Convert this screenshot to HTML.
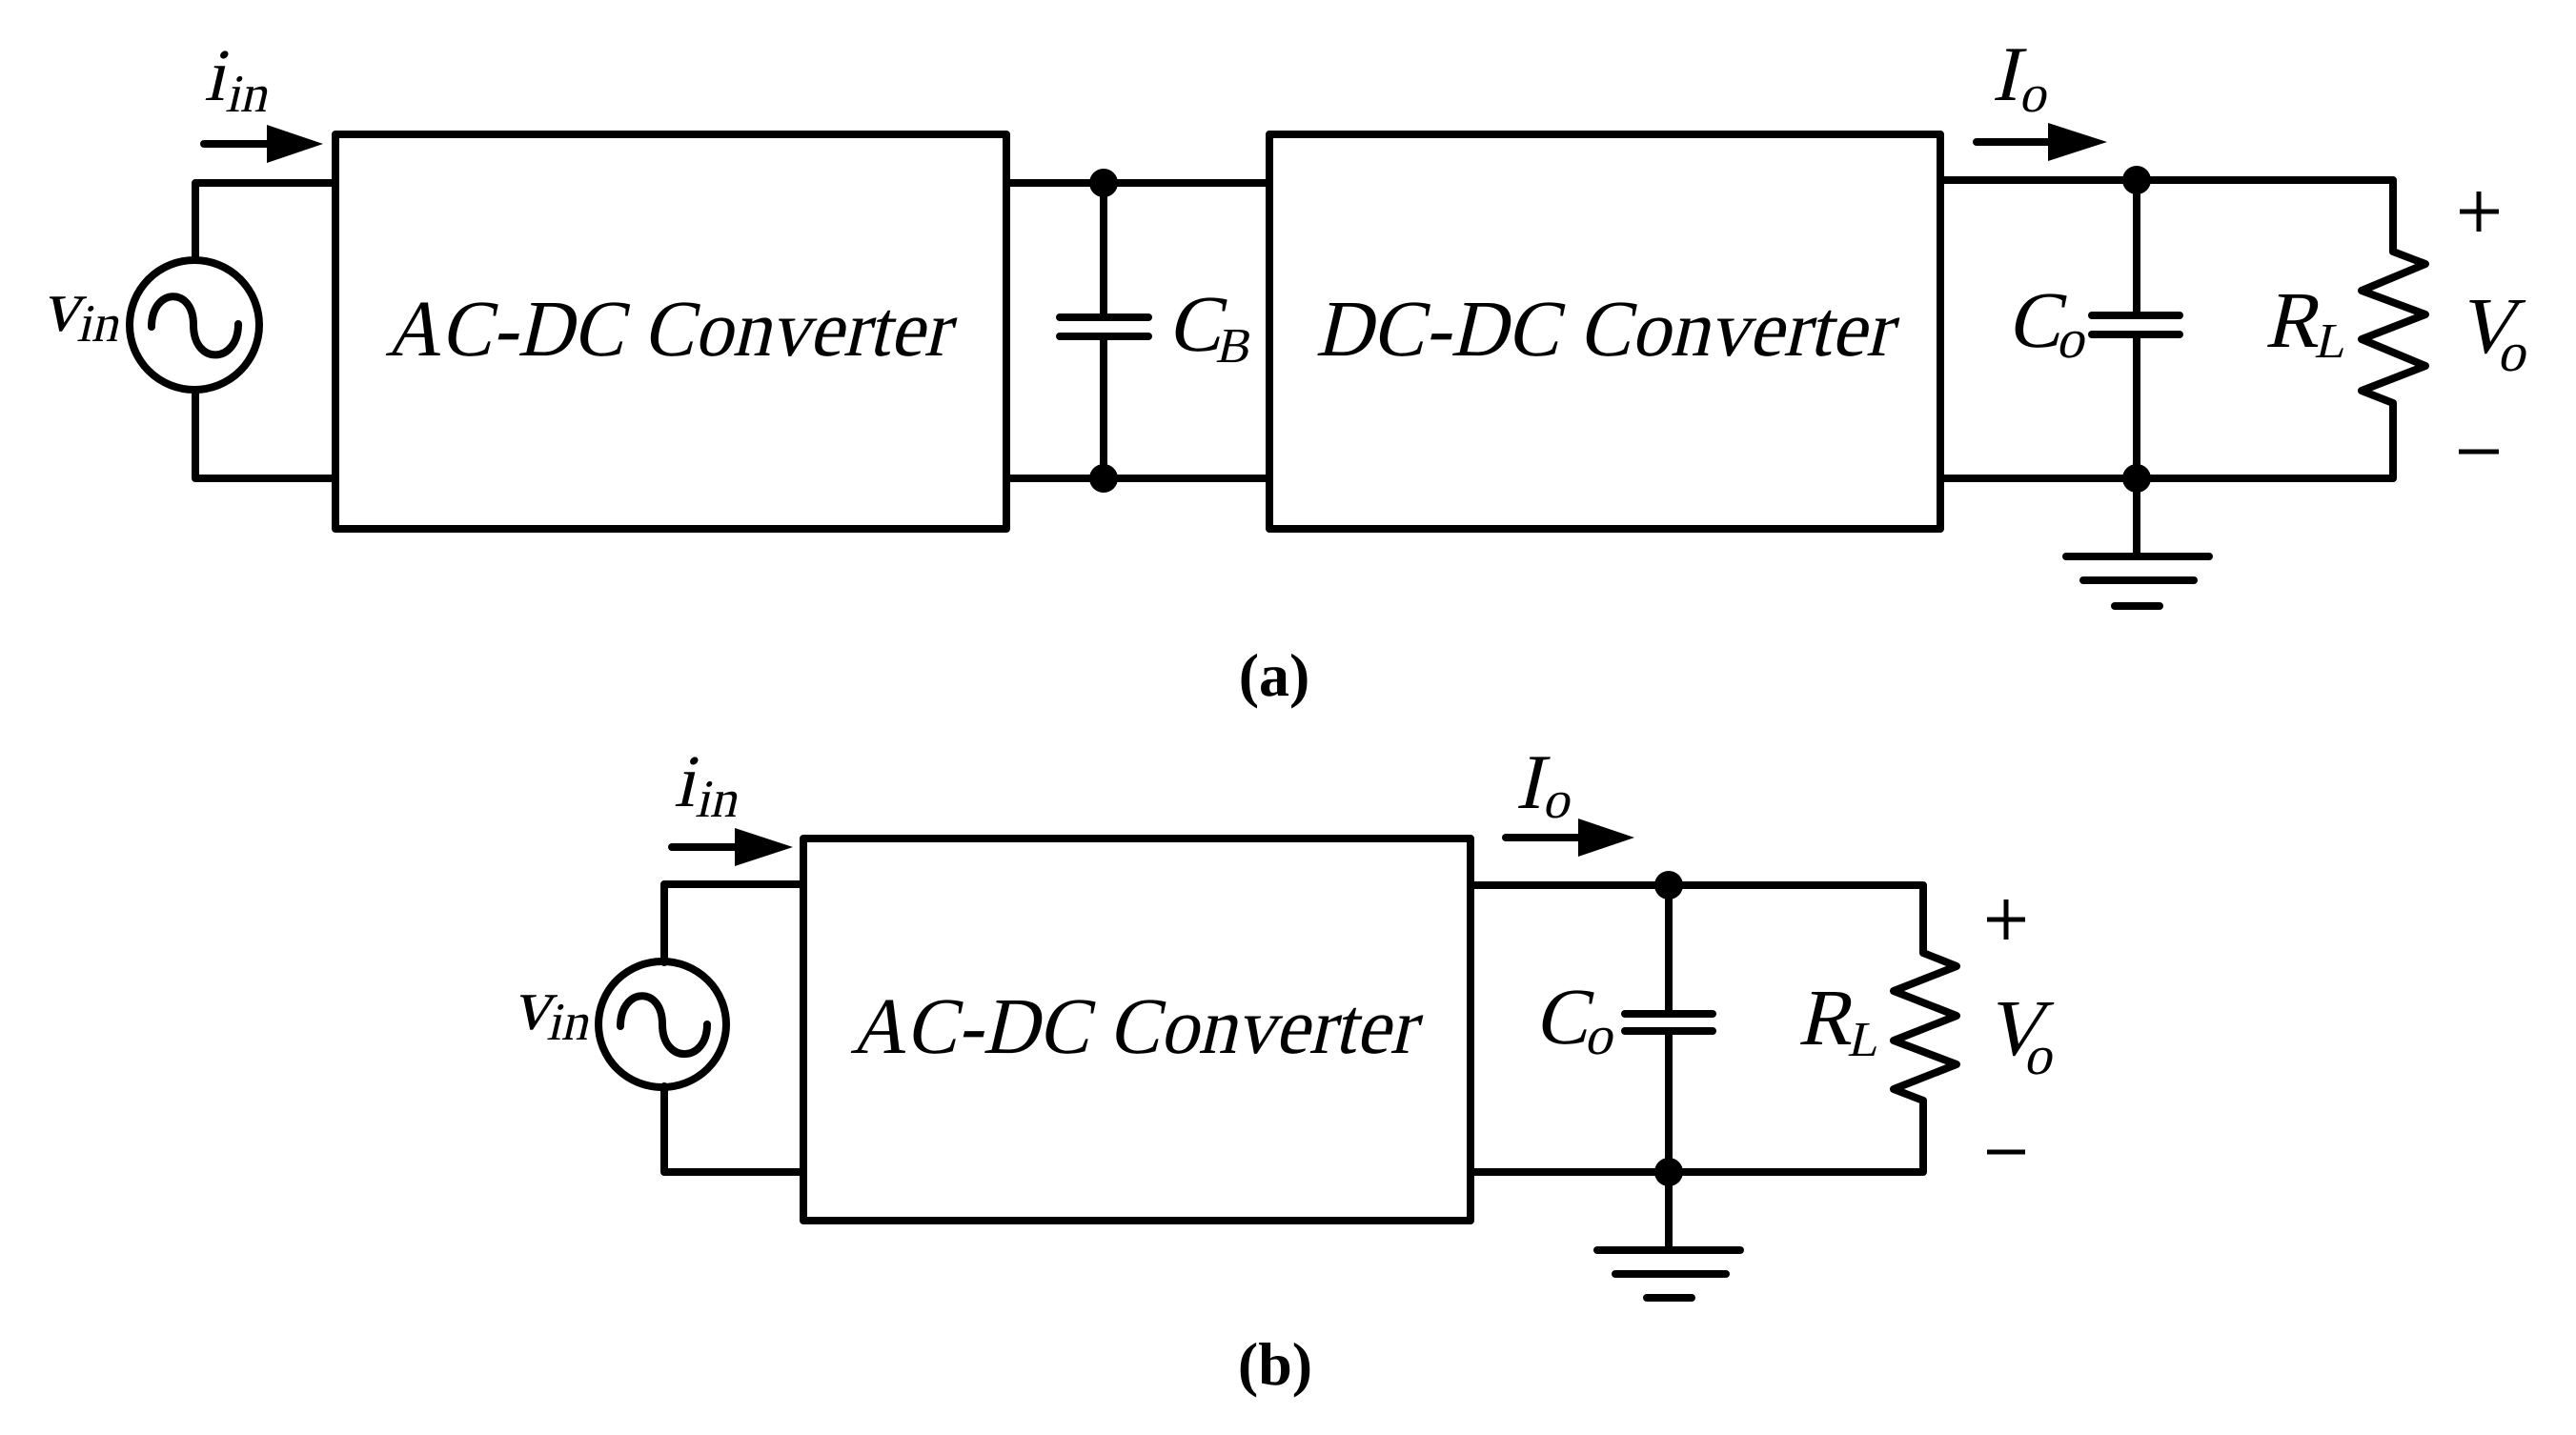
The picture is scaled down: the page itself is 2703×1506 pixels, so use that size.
<!DOCTYPE html>
<html><head><meta charset="utf-8"><style>
html,body{margin:0;padding:0;background:#fff}
svg{display:block}
text{font-family:"Liberation Serif","DejaVu Serif",serif;font-style:normal;fill:#000}
.b{font-weight:bold}
</style></head><body>
<svg width="2703" height="1506" viewBox="0 0 2703 1506" xmlns="http://www.w3.org/2000/svg">
<g fill="none" stroke="#000" stroke-width="8" stroke-linejoin="round" stroke-linecap="round">
<!-- (a) -->
<rect x="352" y="141" width="704" height="414"/>
<rect x="1332" y="141" width="704" height="414"/>
<polyline points="352,192 205,192 205,273"/>
<polyline points="205,410 205,502 352,502"/>
<ellipse cx="204" cy="341" rx="68" ry="68"/>
<path d="M159,343 C159,302 203,300 203,341 C203,384 250,382 250,340"/>
<line x1="1056" y1="192" x2="1332" y2="192"/>
<line x1="1056" y1="502" x2="1332" y2="502"/>
<line x1="1158" y1="192" x2="1158" y2="333"/>
<line x1="1158" y1="353" x2="1158" y2="502"/>
<line x1="1112" y1="333" x2="1205" y2="333"/>
<line x1="1112" y1="353" x2="1205" y2="353"/>
<polyline points="2036,189 2511,189 2511,264 2545,277 2478,305 2545,330 2478,356 2545,384 2478,410 2511,423 2511,502 2036,502"/>
<line x1="2242" y1="189" x2="2242" y2="331"/>
<line x1="2242" y1="351" x2="2242" y2="584"/>
<line x1="2195" y1="331" x2="2287" y2="331"/>
<line x1="2195" y1="351" x2="2287" y2="351"/>
<line x1="2168" y1="584" x2="2318" y2="584"/>
<line x1="2186" y1="609" x2="2302" y2="609"/>
<line x1="2219" y1="636" x2="2266" y2="636"/>
<line x1="214" y1="151" x2="285" y2="151"/>
<line x1="2074" y1="149" x2="2155" y2="149"/>
<!-- (b) -->
<rect x="843" y="880" width="700" height="401"/>
<polyline points="843,928 697,928 697,1010"/>
<polyline points="697,1140 697,1230 843,1230"/>
<ellipse cx="695" cy="1075" rx="67" ry="66"/>
<path d="M651,1077 C651,1036 695,1034 695,1075 C695,1117 742,1116 742,1075"/>
<polyline points="1543,929 2018,929 2018,1000 2053,1014 1987,1040 2053,1066 1987,1092 2053,1117 1987,1143 2018,1155 2018,1230 1543,1230"/>
<line x1="1751" y1="929" x2="1751" y2="1064"/>
<line x1="1751" y1="1082" x2="1751" y2="1312"/>
<line x1="1705" y1="1064" x2="1797" y2="1064"/>
<line x1="1705" y1="1082" x2="1797" y2="1082"/>
<line x1="1676" y1="1312" x2="1826" y2="1312"/>
<line x1="1695" y1="1337" x2="1811" y2="1337"/>
<line x1="1728" y1="1362" x2="1775" y2="1362"/>
<line x1="705" y1="889" x2="776" y2="889"/>
<line x1="1580" y1="879" x2="1660" y2="879"/>
</g>
<g fill="#000">
<polygon points="280,131 280,171 339,151"/>
<polygon points="2149,129 2149,169 2211,149"/>
<polygon points="771,869 771,909 832,889"/>
<polygon points="1656,859 1656,899 1715,879"/>
<circle cx="1158" cy="192" r="15"/><circle cx="1158" cy="502" r="15"/>
<circle cx="2242" cy="189" r="15"/><circle cx="2242" cy="502" r="15"/>
<circle cx="1751" cy="929" r="15"/><circle cx="1751" cy="1230" r="15"/>
</g>
<g stroke="#000" stroke-width="5">
<line x1="2581" y1="222" x2="2622" y2="222"/><line x1="2601" y1="201" x2="2601" y2="243"/>
<line x1="2580" y1="474" x2="2622" y2="474"/>
<line x1="2085" y1="965" x2="2125" y2="965"/><line x1="2105" y1="944" x2="2105" y2="986"/>
<line x1="2085" y1="1209" x2="2125" y2="1209"/>
</g>
<!-- labels (a) -->
<text transform="translate(404,373) skewX(-13)" font-size="84" textLength="592" lengthAdjust="spacingAndGlyphs">AC-DC Converter</text>
<text transform="translate(1380,373) skewX(-13)" font-size="84" textLength="605" lengthAdjust="spacingAndGlyphs">DC-DC Converter</text>
<text transform="translate(214,105) skewX(-13)" font-size="78">i</text><text transform="translate(236,117) skewX(-13)" font-size="56">in</text>
<text transform="translate(44,347) skewX(-13)" font-size="78">v</text><text transform="translate(80,358) skewX(-13)" font-size="56">in</text>
<text transform="translate(1225,368) skewX(-13)" font-size="84">C</text><text transform="translate(1275,380) skewX(-13)" font-size="52">B</text>
<text transform="translate(2090,105) skewX(-13)" font-size="82">I</text><text transform="translate(2118,117) skewX(-13)" font-size="56">o</text>
<text transform="translate(2106,364) skewX(-13)" font-size="84">C</text><text transform="translate(2157,375) skewX(-13)" font-size="58">o</text>
<text transform="translate(2376,364) skewX(-13)" font-size="84">R</text><text transform="translate(2428,375) skewX(-13)" font-size="52">L</text>
<text transform="translate(2578,370) skewX(-13)" font-size="84">V</text><text transform="translate(2620,389) skewX(-13)" font-size="58">o</text>
<text class="b" x="1337" y="730" font-size="64" text-anchor="middle">(a)</text>
<!-- labels (b) -->
<text transform="translate(892,1105) skewX(-13)" font-size="84" textLength="593" lengthAdjust="spacingAndGlyphs">AC-DC Converter</text>
<text transform="translate(707,846) skewX(-13)" font-size="78">i</text><text transform="translate(729,857) skewX(-13)" font-size="56">in</text>
<text transform="translate(538,1080) skewX(-13)" font-size="78">v</text><text transform="translate(573,1091) skewX(-13)" font-size="56">in</text>
<text transform="translate(1590,848) skewX(-13)" font-size="82">I</text><text transform="translate(1618,858) skewX(-13)" font-size="56">o</text>
<text transform="translate(1610,1095) skewX(-13)" font-size="84">C</text><text transform="translate(1662,1106) skewX(-13)" font-size="58">o</text>
<text transform="translate(1886,1096) skewX(-13)" font-size="84">R</text><text transform="translate(1938,1108) skewX(-13)" font-size="52">L</text>
<text transform="translate(2083,1107) skewX(-13)" font-size="84">V</text><text transform="translate(2123,1127) skewX(-13)" font-size="58">o</text>
<text class="b" x="1338" y="1453" font-size="64" text-anchor="middle">(b)</text>
</svg>
</body></html>
